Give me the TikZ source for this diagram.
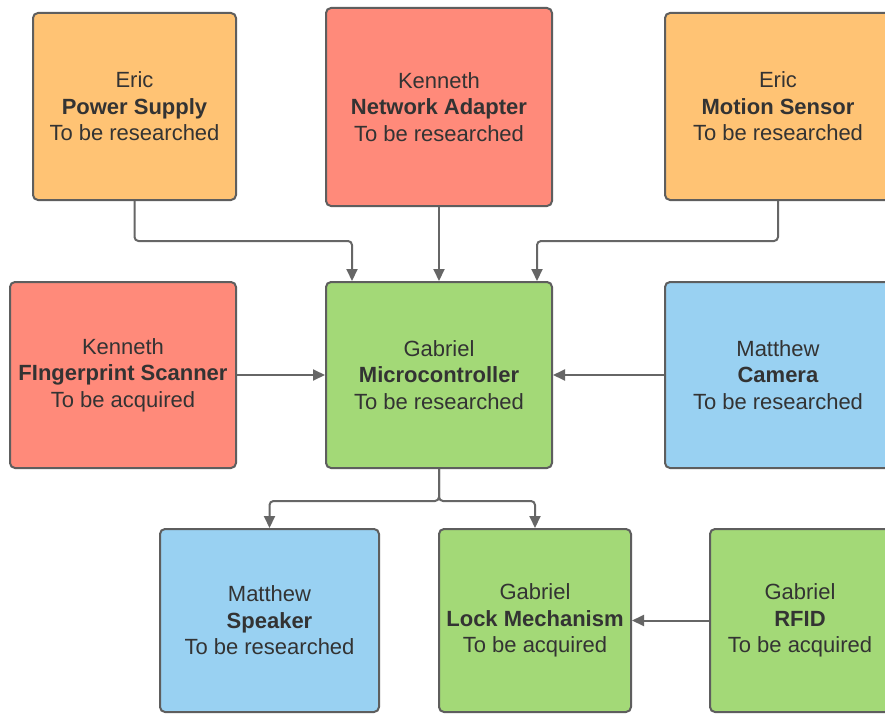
\documentclass[tikz,border=0pt]{standalone}
\usepackage{fontspec}
\setmainfont{Liberation Sans}
\usetikzlibrary{arrows.meta}
\definecolor{corange}{HTML}{FFC374}
\definecolor{cred}{HTML}{FF8A7A}
\definecolor{cgreen}{HTML}{A3D977}
\definecolor{cblue}{HTML}{99D1F2}
\definecolor{cborder}{HTML}{5E5E5E}
\definecolor{cline}{HTML}{666666}
\definecolor{ctext}{HTML}{333333}
\begin{document}
\begin{tikzpicture}[x=1pt,y=-1pt,
  box/.style={draw=cborder, line width=2pt, rounded corners=5pt, align=center,
    text=ctext, font=\fontsize{22}{26.5}\selectfont, inner sep=0pt},
  conn/.style={draw=cline, line width=2pt, rounded corners=4pt,
    -{Triangle[length=12pt,width=11pt]}}]
\useasboundingbox (0,0) rectangle (885,714);
\clip (0,0) rectangle (885,714);
\fill[white] (0,0) rectangle (885,714);
\node[box, fill=corange, minimum width=203pt, minimum height=187pt] (ps) at (134.5,106.5)
  {Eric\\\textbf{Power Supply}\\To be researched};
\node[box, fill=cred, minimum width=226pt, minimum height=198pt] (na) at (439,107)
  {Kenneth\\\textbf{Network Adapter}\\To be researched};
\node[box, fill=corange, minimum width=226pt, minimum height=187pt] (ms) at (778,106.5)
  {Eric\\\textbf{Motion Sensor}\\To be researched};
\node[box, fill=cred, minimum width=226pt, minimum height=186pt] (fs) at (123,375)
  {Kenneth\\\textbf{FIngerprint Scanner}\\To be acquired};
\node[box, fill=cgreen, minimum width=226pt, minimum height=186pt] (mc) at (439,375)
  {Gabriel\\\textbf{Microcontroller}\\To be researched};
\node[box, fill=cblue, minimum width=226pt, minimum height=186pt] (cam) at (778,375)
  {Matthew\\\textbf{Camera}\\To be researched};
\node[box, fill=cblue, minimum width=219pt, minimum height=183pt] (sp) at (269.5,620.5)
  {Matthew\\\textbf{Speaker}\\To be researched};
\node[box, fill=cgreen, minimum width=192pt, minimum height=183pt] (lm) at (535,620.5)
  {Gabriel\\\textbf{Lock Mechanism}\\To be acquired};
\node[box, fill=cgreen, minimum width=180pt, minimum height=183pt] (rf) at (800,620.5)
  {Gabriel\\\textbf{RFID}\\To be acquired};
\draw[conn] (ps.south) -- ++(0,40) -| ([xshift=-87pt]mc.north);
\draw[conn] (na.south) -- (mc.north);
\draw[conn] (ms.south) -- ++(0,40) -| ([xshift=98pt]mc.north);
\draw[conn] (fs.east) -- (mc.west);
\draw[conn] (cam.west) -- (mc.east);
\draw[conn] (mc.south) -- ++(0,32) -| (sp.north);
\draw[conn] (mc.south) -- ++(0,32) -| (lm.north);
\draw[conn] (rf.west) -- (lm.east);
\end{tikzpicture}
\end{document}
